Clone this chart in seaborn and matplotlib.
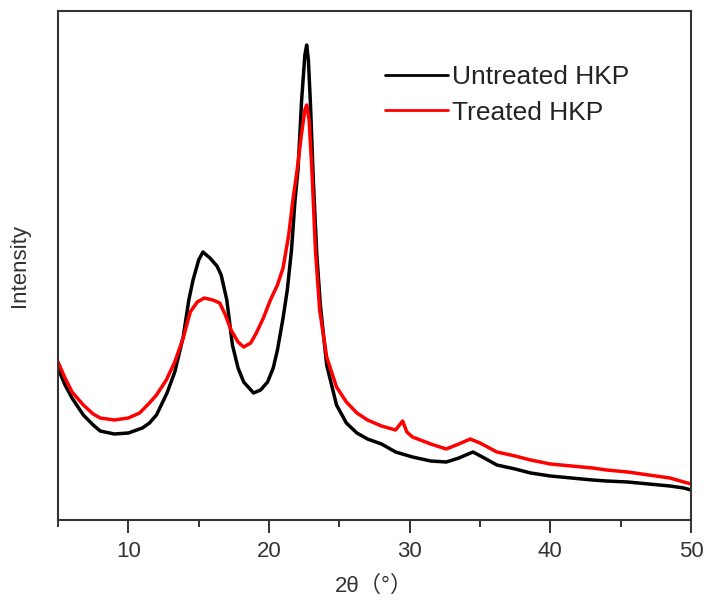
import matplotlib
matplotlib.use("Agg")
import matplotlib.pyplot as plt
import seaborn as sns
import pandas as pd
from matplotlib.ticker import MultipleLocator

# 2-theta (degrees) and intensity (arbitrary units)
untreated_theta = [5.0, 5.5, 6.0, 6.8, 7.5, 8.0, 9.0, 10.0, 11.0, 11.5, 12.0, 12.75, 13.3,
                   13.9, 14.3, 14.6, 15.0, 15.3, 15.8, 16.3, 16.6, 17.0, 17.4, 17.8, 18.2,
                   18.9, 19.4, 19.9, 20.3, 20.6, 21.0, 21.3, 21.6, 21.85, 22.06, 22.32, 22.55,
                   22.68, 22.8, 22.95, 23.15, 23.4, 23.65, 24.1, 24.8, 25.5, 26.25, 27.0, 28.0,
                   29.0, 30.2, 31.5, 32.6, 33.5, 34.5, 35.3, 36.2, 37.5, 38.6, 40.0, 41.5,
                   43.0, 44.0, 45.5, 47.0, 48.5, 49.5, 50.0]
untreated_int = [152, 135, 122, 105, 95, 89, 86, 87, 92, 97, 105, 127, 148,
                 183, 220, 240, 260, 268, 262, 254, 245, 220, 175, 152, 138,
                 127, 130, 138, 152, 170, 202, 230, 270, 320, 350, 420, 465,
                 475, 460, 415, 340, 265, 215, 155, 115, 97, 87, 81, 76,
                 68, 63, 59, 58, 62, 68, 62, 55, 51, 47, 44, 42,
                 40, 39, 38, 36, 34, 32, 30]

treated_theta = [5.0, 5.5, 6.0, 6.8, 7.5, 8.0, 9.0, 10.0, 10.8, 11.5, 12.0, 12.7, 13.3,
                 13.9, 14.4, 14.9, 15.4, 16.0, 16.5, 16.9, 17.3, 17.8, 18.2, 18.7, 19.1,
                 19.6, 20.1, 20.6, 21.0, 21.4, 21.7, 22.0, 22.3, 22.55, 22.68, 22.85, 23.05,
                 23.3, 23.6, 24.1, 24.8, 25.5, 26.25, 27.0, 28.0, 29.0, 29.5, 29.8, 30.2,
                 31.5, 32.6, 33.5, 34.3, 35.0, 36.2, 37.5, 38.6, 40.0, 41.5, 43.0, 44.0,
                 45.5, 47.0, 48.5, 49.5, 50.0]
treated_int = [158, 142, 128, 115, 106, 102, 100, 102, 107, 117, 125, 140, 158,
               182, 208, 218, 222, 220, 217, 205, 190, 178, 173, 177, 187,
               202, 220, 235, 252, 285, 320, 350, 385, 410, 415, 400, 350,
               270, 210, 163, 133, 118, 107, 100, 94, 90, 99, 88, 83,
               76, 71, 76, 81, 77, 68, 64, 60, 56, 54, 52, 50,
               48, 45, 42, 38, 36]

series_names = ["Untreated HKP", "Treated HKP"]
series_colors = ["#000000", "#ff0000"]
x_ticks = [10, 20, 30, 40, 50]

df = pd.concat([
    pd.DataFrame({"theta": untreated_theta, "intensity": untreated_int, "sample": series_names[0]}),
    pd.DataFrame({"theta": treated_theta, "intensity": treated_int, "sample": series_names[1]}),
], ignore_index=True)

sns.set_style("white")
plt.rcParams["font.family"] = ["Liberation Sans", "Noto Sans CJK SC", "DejaVu Sans"]

fig = plt.figure(figsize=(7.04, 6.0), dpi=100)
ax = fig.add_axes([58 / 704, 80 / 600, 633 / 704, 509 / 600])

sns.lineplot(data=df, x="theta", y="intensity", hue="sample", hue_order=series_names,
             palette=dict(zip(series_names, series_colors)), estimator=None, sort=False,
             linewidth=2.5, ax=ax)

ax.set_xlim(5, 50)
ax.set_ylim(0, 509)
ax.set_xticks(x_ticks)
ax.set_xticklabels([str(t) for t in x_ticks])
ax.xaxis.set_minor_locator(MultipleLocator(5))
ax.set_yticks([])
ax.tick_params(axis="x", which="major", direction="out", length=9, width=1.4,
               colors="#333333", labelsize=16, pad=6, bottom=True)
ax.tick_params(axis="x", which="minor", direction="out", length=5, width=1.4,
               colors="#333333", bottom=True)
for s in ax.spines.values():
    s.set_visible(True)
    s.set_color("#333333")
    s.set_linewidth(1.5)

ax.set_xlabel("2θ（°）", fontsize=16, color="#333333", labelpad=10)
ax.set_ylabel("Intensity", fontsize=16, color="#333333", labelpad=20)

leg = ax.legend(loc="upper left", bbox_to_anchor=(0.5, 0.915), frameon=False,
                fontsize=19, handlelength=2.4, handletextpad=0.15, labelspacing=0.45,
                borderaxespad=0)
for line in leg.get_lines():
    line.set_linewidth(2.0)
for t in leg.get_texts():
    t.set_color("#222222")

fig.savefig("out.png", dpi=100)
